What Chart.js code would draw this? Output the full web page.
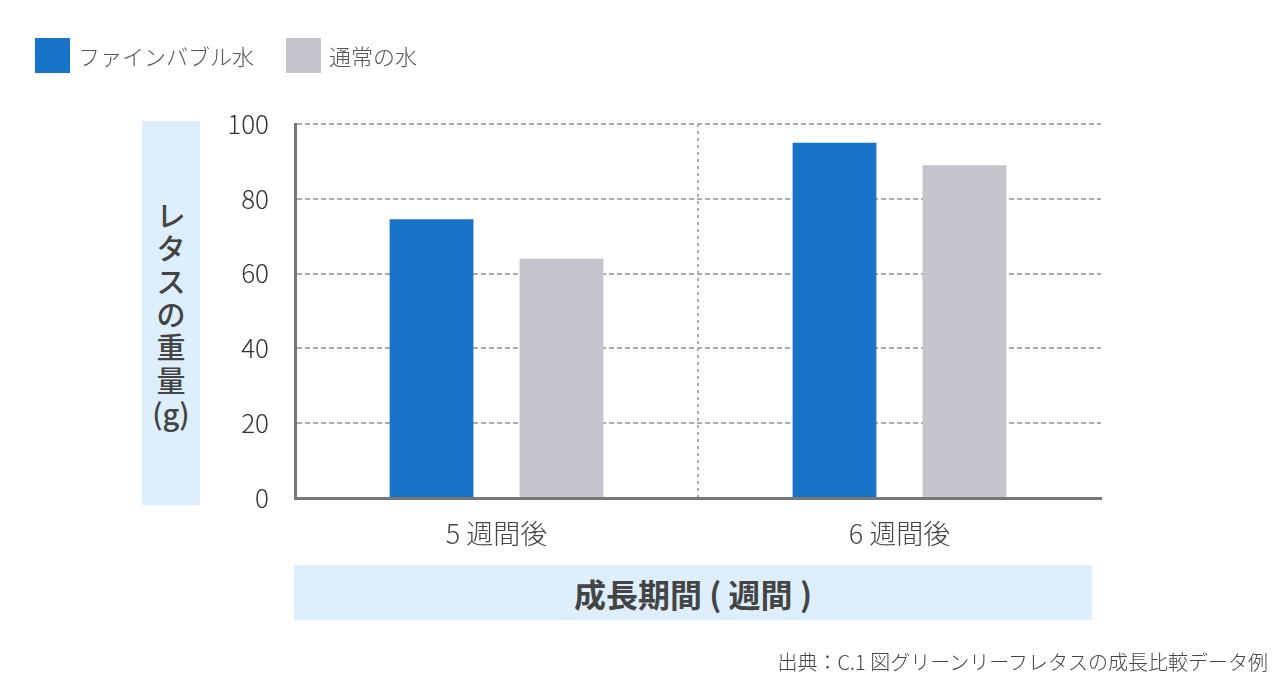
<!DOCTYPE html>
<html lang="ja">
<head>
<meta charset="utf-8">
<title>レタスの成長比較</title>
<script src="https://cdn.jsdelivr.net/npm/chart.js@4.4.1/dist/chart.umd.min.js"></script>
<style>
  html, body { margin: 0; padding: 0; background: #fff; }
  body { width: 1280px; height: 680px; position: relative; overflow: hidden;
         font-family: "Noto Sans CJK JP", "Noto Sans", sans-serif; color: #444; }
  #chart { position: absolute; left: 0; top: 0; }
  .legend { position: absolute; top: 38px; left: 35px; display: flex; align-items: center; }
  .legend-item { display: flex; align-items: center; margin-right: 32px; }
  .legend-box { width: 35px; height: 35px; margin-right: 8px; }
  .legend-text { font-size: 22px; font-weight: 300; color: #555; line-height: 35px; }
  .y-title { position: absolute; left: 142px; top: 121px; width: 58px; height: 384px;
             background: #ddeffd; display: flex; align-items: center; justify-content: center;
             text-align: center; font-size: 29px; line-height: 33px; font-weight: 500; color: #444; }
  .x-title { position: absolute; left: 294px; top: 565px; width: 798px; height: 55px;
             background: #ddeffd; display: flex; align-items: center; justify-content: center;
             font-size: 32px; font-weight: bold; color: #444; }
  .source { position: absolute; right: 12px; top: 650px; font-size: 20px; font-weight: 300; line-height: 24px; color: #444; }
</style>
</head>
<body>
<canvas id="chart" width="1280" height="680"></canvas>
<div class="legend" id="legend"></div>
<div class="y-title">レ<br>タ<br>ス<br>の<br>重<br>量<br>(g)</div>
<div class="x-title">成長期間 ( 週間 )</div>
<div class="source">出典：C.1 図グリーンリーフレタスの成長比較データ例</div>
<script>
(function () {
  'use strict';

  // ------------------------------------------------------------
  //  Data
  // ------------------------------------------------------------
  var categories = ['5 週間後', '6 週間後'];
  var seriesNames = ['ファインバブル水', '通常の水'];
  var fineBubble = [74.5, 95];
  var normalWater = [64, 89];
  var yTicks = [0, 20, 40, 60, 80, 100];

  var colors = ['#1874c9', '#c3c4cc'];
  var font = '"Noto Sans CJK JP", "Noto Sans", sans-serif';

  // ------------------------------------------------------------
  //  Legend (HTML)
  // ------------------------------------------------------------
  var legendEl = document.getElementById('legend');
  seriesNames.forEach(function (name, i) {
    var item = document.createElement('div');
    item.className = 'legend-item';
    item.innerHTML = '<span class="legend-box" style="background:' + colors[i] + '"></span>' +
      '<span class="legend-text">' + name + '</span>';
    legendEl.appendChild(item);
  });

  // ------------------------------------------------------------
  //  Chart
  // ------------------------------------------------------------
  new Chart(document.getElementById('chart').getContext('2d'), {
    type: 'bar',
    data: {
      labels: categories,
      datasets: [
        { label: seriesNames[0], data: fineBubble, backgroundColor: colors[0], borderWidth: 0,
          categoryPercentage: 0.645, barPercentage: 0.645 },
        { label: seriesNames[1], data: normalWater, backgroundColor: colors[1], borderWidth: 0,
          categoryPercentage: 0.645, barPercentage: 0.645 }
      ]
    },
    options: {
      responsive: false,
      animation: false,
      layout: { padding: { top: 124, right: 179, bottom: 122, left: 0 } },
      plugins: { legend: { display: false }, tooltip: { enabled: false } },
      scales: {
        x: {
          afterFit: function (s) { s.height = 60; },
          grid: {
            offset: true,
            drawTicks: false,
            lineWidth: 2,
            color: function (ctx) { return ctx.index === 1 ? '#ababab' : 'rgba(0,0,0,0)'; }
          },
          border: { display: true, color: '#777', width: 3, dash: [3, 4] },
          ticks: { color: '#444', padding: 20, font: { size: 27, family: font, weight: 300 } }
        },
        y: {
          min: 0, max: 100,
          afterFit: function (s) { s.width = 295; },
          afterBuildTicks: function (s) { s.ticks = yTicks.map(function (v) { return { value: v }; }); },
          grid: {
            drawTicks: false,
            lineWidth: 2,
            color: function (ctx) { return ctx.tick && ctx.tick.value === 0 ? 'rgba(0,0,0,0)' : '#ababab'; }
          },
          border: { display: true, color: '#777', width: 3, dash: [5, 3] },
          ticks: { color: '#333', padding: 26, font: { size: 26, family: font, weight: 300 } }
        }
      }
    }
  });
})();
</script>
</body>
</html>
